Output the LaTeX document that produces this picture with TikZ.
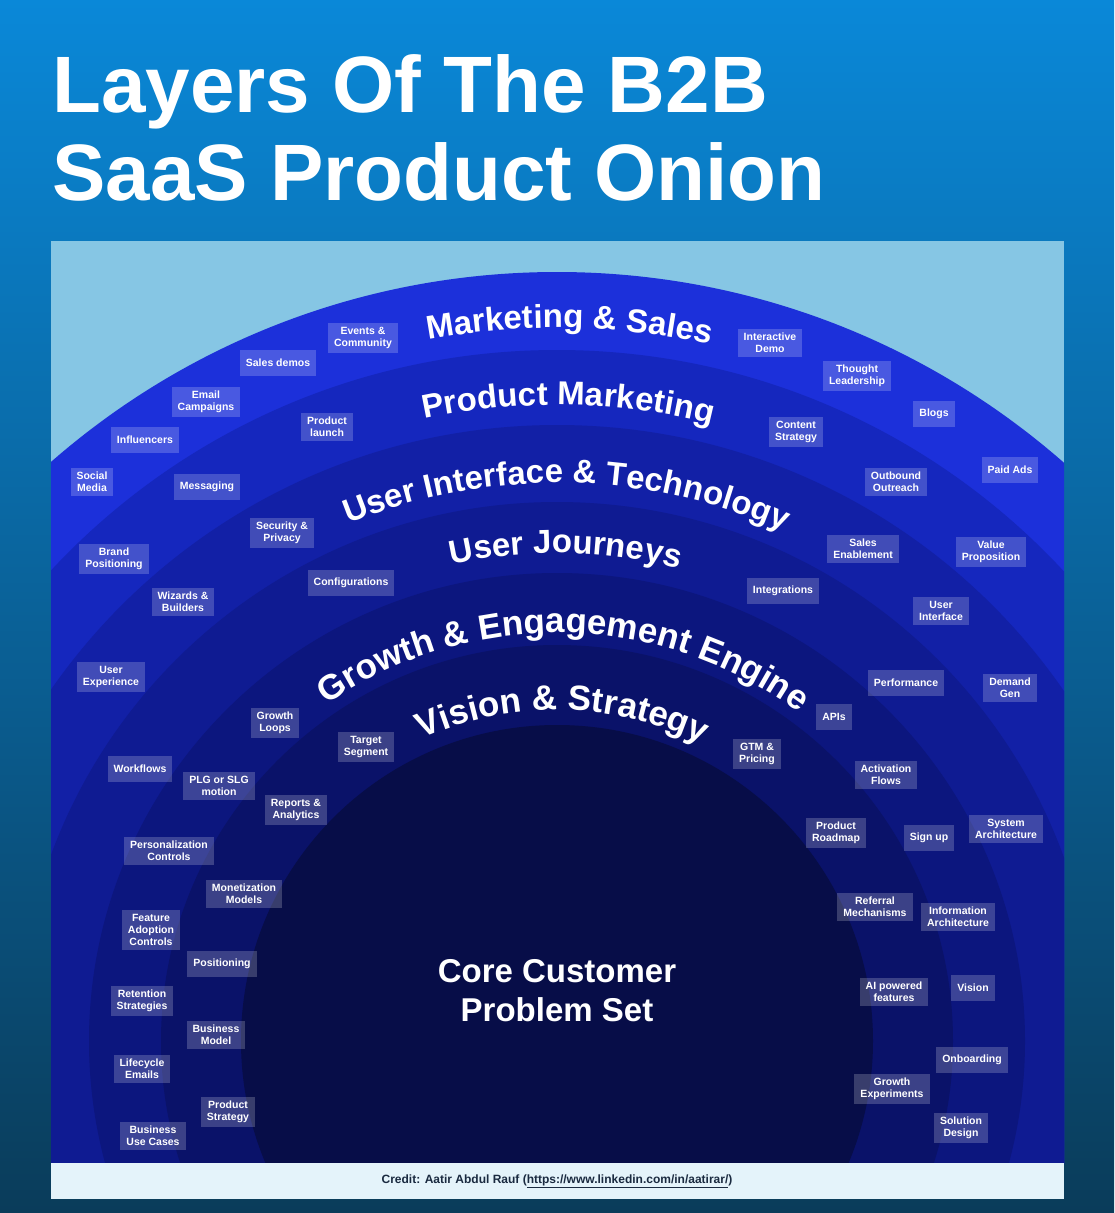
\documentclass[tikz,border=0pt]{standalone}
\usepackage{fontspec}
\setmainfont{Liberation Sans}
\usetikzlibrary{decorations.text}
\definecolor{bgtop}{HTML}{0A88D8}
\definecolor{bgbot}{HTML}{0A3C5A}
\definecolor{panel}{HTML}{86C6E4}
\definecolor{strip}{HTML}{E4F3FA}
\definecolor{cMS}{HTML}{1C30DA}
\definecolor{cPM}{HTML}{1527BE}
\definecolor{cUI}{HTML}{1220A6}
\definecolor{cUJ}{HTML}{0F1B92}
\definecolor{cGE}{HTML}{0C167E}
\definecolor{cVS}{HTML}{0A1269}
\definecolor{cCore}{HTML}{070D48}
\definecolor{credit}{HTML}{1A2A40}
\tikzset{
 item/.style={fill=white,fill opacity=0.2,text opacity=1,text=white,font=\fontsize{10.5}{12}\selectfont\bfseries,align=center,inner xsep=6pt,inner ysep=4pt,minimum height=26pt},
 curved/.style={decorate,decoration={text along path,text align=center,text color=white,text={#1}}},
}
\newcommand{\lf}{\fontsize{33}{36}\selectfont\bfseries}
\begin{document}
\begin{tikzpicture}[x=1pt,y=1pt]
\useasboundingbox (0,0) rectangle (1114,-1213);
\shade[top color=bgtop,bottom color=bgbot] (0,0) rectangle (1114,-1213);
\node[anchor=base west,inner sep=0,text=white,font=\fontsize{80}{90}\selectfont\bfseries] (t1) at (52,-112) {Layers Of The B2B};
\node[anchor=base west,inner sep=0,text=white,font=\fontsize{80}{90}\selectfont\bfseries] (t2) at (52,-200) {SaaS Product Onion};
\fill[panel] (51,-241) rectangle (1064,-1163);
\begin{scope}
\clip (51,-241) rectangle (1064,-1163);
\fill[cMS] (557,-1041) circle (769);
\fill[cPM] (557,-1041) circle (691);
\fill[cUI] (557,-1041) circle (616);
\fill[cUJ] (557,-1041) circle (539);
\fill[cGE] (557,-1041) circle (468);
\fill[cVS] (557,-1041) circle (396);
\fill[cCore] (557,-1041) circle (316);
\end{scope}
\fill[strip] (51,-1163) rectangle (1064,-1199);
\node[font=\fontsize{12}{14}\selectfont\bfseries,text=credit] (cr) at (557,-1181) {Credit: Aatir Abdul Rauf (\underline{https://www.linkedin.com/in/aatirar/})};
% layer labels
\path[curved={|\lf|Marketing {\&} Sales}] (557,-1041) ++(150:713) arc (150:28:713);
\path[curved={|\lf|Product Marketing}] (557,-1041) ++(150:636) arc (150:28:636);
\path[curved={|\lf|User Interface {\&} Technology}] (557,-1041) ++(150:558) arc (150:28:558);
\path[curved={|\lf|User Journeys}] (557,-1041) ++(150:488) arc (150:28:488);
\path[curved={|\fontsize{35}{38}\selectfont\bfseries|Growth {\&} Engagement Engine}] (557,-1041) ++(162:408) arc (162:16:408);
\path[curved={|\fontsize{35}{38}\selectfont\bfseries|Vision {\&} Strategy}] (557,-1041) ++(162:331) arc (162:16:331);
\node[text=white,font=\fontsize{33}{39}\selectfont\bfseries,align=center] (core) at (557,-991) {Core Customer\\Problem Set};
% items
\node[item] (a1) at (363,-338) {Events \&\\Community};
\node[item] (a2) at (278,-363) {Sales demos};
\node[item] (a3) at (206,-402) {Email\\Campaigns};
\node[item] (a4) at (145,-440) {Influencers};
\node[item] (a5) at (92,-482) {Social\\Media};
\node[item] (a6) at (327,-427) {Product\\launch};
\node[item] (a7) at (207,-487) {Messaging};
\node[item] (a8) at (770,-343) {Interactive\\Demo};
\node[item] (a9) at (857,-376) {Thought\\Leadership};
\node[item] (a10) at (934,-414) {Blogs};
\node[item] (a11) at (1010,-470) {Paid Ads};
\node[item] (a12) at (796,-432) {Content\\Strategy};
\node[item] (a13) at (896,-482) {Outbound\\Outreach};
\node[item] (a14) at (282,-533) {Security \&\\Privacy};
\node[item] (a15) at (114,-559) {Brand\\Positioning};
\node[item] (a16) at (351,-583) {Configurations};
\node[item] (a17) at (183,-602) {Wizards \&\\Builders};
\node[item] (a18) at (863,-549) {Sales\\Enablement};
\node[item] (a19) at (991,-552) {Value\\Proposition};
\node[item] (a20) at (783,-591) {Integrations};
\node[item] (a21) at (941,-611) {User\\Interface};
\node[item] (a22) at (111,-677) {User\\Experience};
\node[item] (a23) at (906,-683) {Performance};
\node[item] (a24) at (1010,-688) {Demand\\Gen};
\node[item] (a25) at (275,-723) {Growth\\Loops};
\node[item] (a26) at (366,-747) {Target\\Segment};
\node[item] (a27) at (834,-717) {APIs};
\node[item] (a28) at (757,-754) {GTM \&\\Pricing};
\node[item] (a29) at (140,-769) {Workflows};
\node[item] (a30) at (219,-786) {PLG or SLG\\motion};
\node[item] (a31) at (296,-810) {Reports \&\\Analytics};
\node[item] (a32) at (886,-775) {Activation\\Flows};
\node[item] (a33) at (836,-833) {Product\\Roadmap};
\node[item] (a34) at (929,-838) {Sign up};
\node[item] (a35) at (1006,-829) {System\\Architecture};
\node[item] (a36) at (169,-851) {Personalization\\Controls};
\node[item] (a37) at (244,-894) {Monetization\\Models};
\node[item] (a38) at (875,-907) {Referral\\Mechanisms};
\node[item] (a39) at (958,-917) {Information\\Architecture};
\node[item] (a40) at (151,-930) {Feature\\Adoption\\Controls};
\node[item] (a41) at (222,-964) {Positioning};
\node[item] (a42) at (894,-992) {AI powered\\features};
\node[item] (a43) at (973,-988) {Vision};
\node[item] (a44) at (142,-1001) {Retention\\Strategies};
\node[item] (a45) at (216,-1035) {Business\\Model};
\node[item] (a46) at (972,-1060) {Onboarding};
\node[item] (a47) at (142,-1069) {Lifecycle\\Emails};
\node[item] (a48) at (228,-1112) {Product\\Strategy};
\node[item] (a49) at (892,-1089) {Growth\\Experiments};
\node[item] (a50) at (153,-1136) {Business\\Use Cases};
\node[item] (a51) at (961,-1128) {Solution\\Design};
\end{tikzpicture}
\end{document}
